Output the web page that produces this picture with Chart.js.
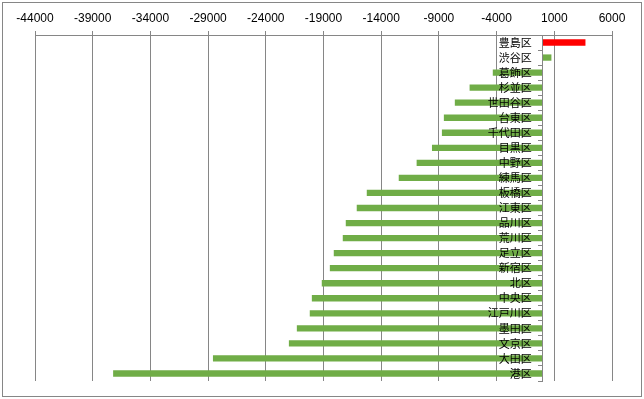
<!DOCTYPE html>
<html>
<head>
<meta charset="utf-8">
<script src="https://cdn.jsdelivr.net/npm/chart.js@4/dist/chart.umd.min.js"></script>
<style>
  html, body { margin: 0; padding: 0; background: #fff; }
  #wrap { position: relative; width: 644px; height: 399px; }
  #frame {
    position: absolute; left: 2px; top: 2px; width: 638px; height: 393px;
    border: 1px solid #868686; pointer-events: none;
  }
</style>
</head>
<body>
<div id="wrap">
  <canvas id="js-bar-chart" width="644" height="399"></canvas>
  <div id="frame"></div>
</div>
<script>
// Wards (top to bottom)
const wards = ['豊島区', '渋谷区', '葛飾区', '杉並区', '世田谷区', '台東区', '千代田区', '目黒区',
  '中野区', '練馬区', '板橋区', '江東区', '品川区', '荒川区', '足立区', '新宿区', '北区',
  '中央区', '江戸川区', '墨田区', '文京区', '大田区', '港区'];

// Values
const changes = [3700, 750, -4330, -6340, -7620, -8570, -8740, -9600,
  -10930, -12480, -15250, -16120, -17070, -17330, -18110, -18450, -19150,
  -20010, -20190, -21310, -22000, -28580, -37230];

// Top axis ticks
const xMin = -44000;
const xMax = 6000;
const xStep = 5000;

const gridGray = '#868686';

// first bar is highlighted red, the rest green
const barColors = wards.map((w, i) => (i === 0 ? '#FF0000' : '#70AD47'));

const ctx = document.getElementById('js-bar-chart').getContext('2d');

const chart = new Chart(ctx, {
  type: 'bar',
  data: {
    labels: wards,
    datasets: [
      {
        data: changes,
        backgroundColor: barColors,
        borderWidth: 0,
        barPercentage: 0.42,
        categoryPercentage: 1.0,
      },
    ],
  },
  options: {
    indexAxis: 'y',
    responsive: false,
    animation: false,
    layout: {
      padding: { left: 35, right: 32, top: 6.6, bottom: 18 },
    },
    plugins: {
      legend: { display: false },
      tooltip: { enabled: false },
    },
    scales: {
      x: {
        position: 'top',
        min: xMin,
        max: xMax,
        grid: { color: gridGray, tickLength: 4 },
        border: { color: gridGray },
        ticks: {
          stepSize: xStep,
          padding: 5,
          color: '#000',
          font: { family: 'Liberation Sans', size: 12 },
          callback: (v) => String(v),
        },
      },
      y: {
        position: { x: 0 },
        grid: { drawOnChartArea: false, tickLength: 4, color: gridGray },
        border: { color: gridGray, z: 1 },
        ticks: {
          z: 1, // ward names sit on top of the bars
          autoSkip: false,
          color: '#000',
          font: { family: 'Noto Sans CJK JP', size: 11 },
          // keep the label clear of the axis line
          callback: function (v) { return this.getLabelForValue(v) + '\u3000'; },
        },
      },
    },
  },
});
</script>
</body>
</html>
